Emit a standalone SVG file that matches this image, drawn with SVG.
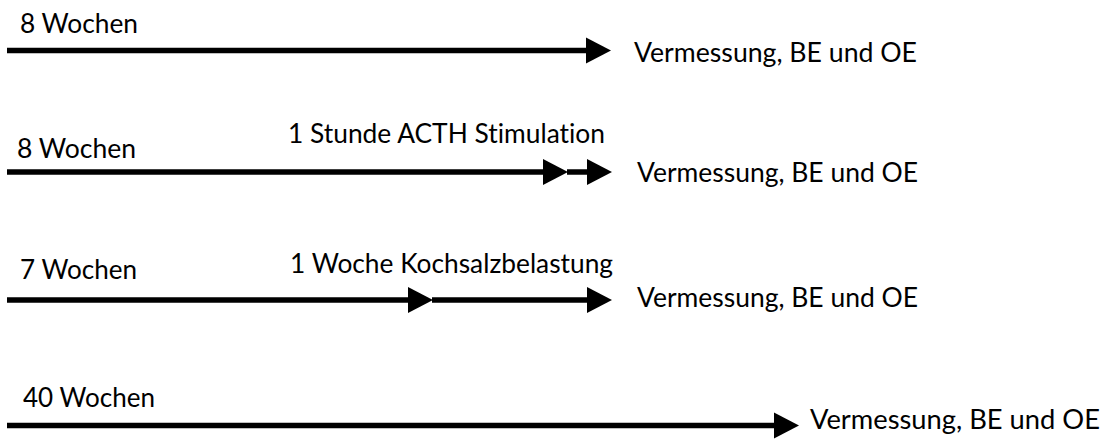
<svg xmlns="http://www.w3.org/2000/svg" width="1107" height="441" viewBox="0 0 1107 441">
<defs>
<style>
.t{font-family:Lato,"Open Sans","Liberation Sans",sans-serif;font-size:26px;fill:#000;font-variant-ligatures:none}
.c{stroke:#000;stroke-width:5.5;fill:none}
</style>
<marker id="ah" markerUnits="userSpaceOnUse" markerWidth="26" markerHeight="27" refX="0" refY="13" orient="auto" viewBox="0 0 26 26">
<path d="M0,0 L25,13 L0,26 Z" fill="#000"/>
</marker>
</defs>
<rect width="1107" height="441" fill="#fff"/>
<g id="connectors">
<line class="c" x1="7" y1="50.5" x2="586" y2="50.5" marker-end="url(#ah)"/>
<line class="c" x1="7" y1="172" x2="543" y2="172" marker-end="url(#ah)"/>
<line class="c" x1="567" y1="172" x2="587" y2="172" marker-end="url(#ah)"/>
<line class="c" x1="7" y1="300" x2="408" y2="300" marker-end="url(#ah)"/>
<line class="c" x1="432" y1="300" x2="587" y2="300" marker-end="url(#ah)"/>
<line class="c" x1="7" y1="425.5" x2="774" y2="425.5" marker-end="url(#ah)"/>
</g>
<g id="row1">
<text class="t" x="20" y="33" textLength="118" lengthAdjust="spacingAndGlyphs">8 Wochen</text>
<text class="t" x="634" y="62" textLength="283" lengthAdjust="spacingAndGlyphs">Vermessung, BE und OE</text>
</g>
<g id="row2">
<text class="t" x="17" y="158" textLength="119" lengthAdjust="spacingAndGlyphs">8 Wochen</text>
<text class="t" x="288" y="143" textLength="317" lengthAdjust="spacingAndGlyphs">1 Stunde ACTH Stimulation</text>
<text class="t" x="637" y="182" textLength="281" lengthAdjust="spacingAndGlyphs">Vermessung, BE und OE</text>
</g>
<g id="row3">
<text class="t" x="20" y="279" textLength="117" lengthAdjust="spacingAndGlyphs">7 Wochen</text>
<text class="t" x="290" y="273" textLength="323" lengthAdjust="spacingAndGlyphs">1 Woche Kochsalzbelastung</text>
<text class="t" x="637" y="307" textLength="281" lengthAdjust="spacingAndGlyphs">Vermessung, BE und OE</text>
</g>
<g id="row4">
<text class="t" x="23" y="407" textLength="132" lengthAdjust="spacingAndGlyphs">40 Wochen</text>
<text class="t" x="810" y="429" textLength="290" lengthAdjust="spacingAndGlyphs">Vermessung, BE und OE</text>
</g>
</svg>
